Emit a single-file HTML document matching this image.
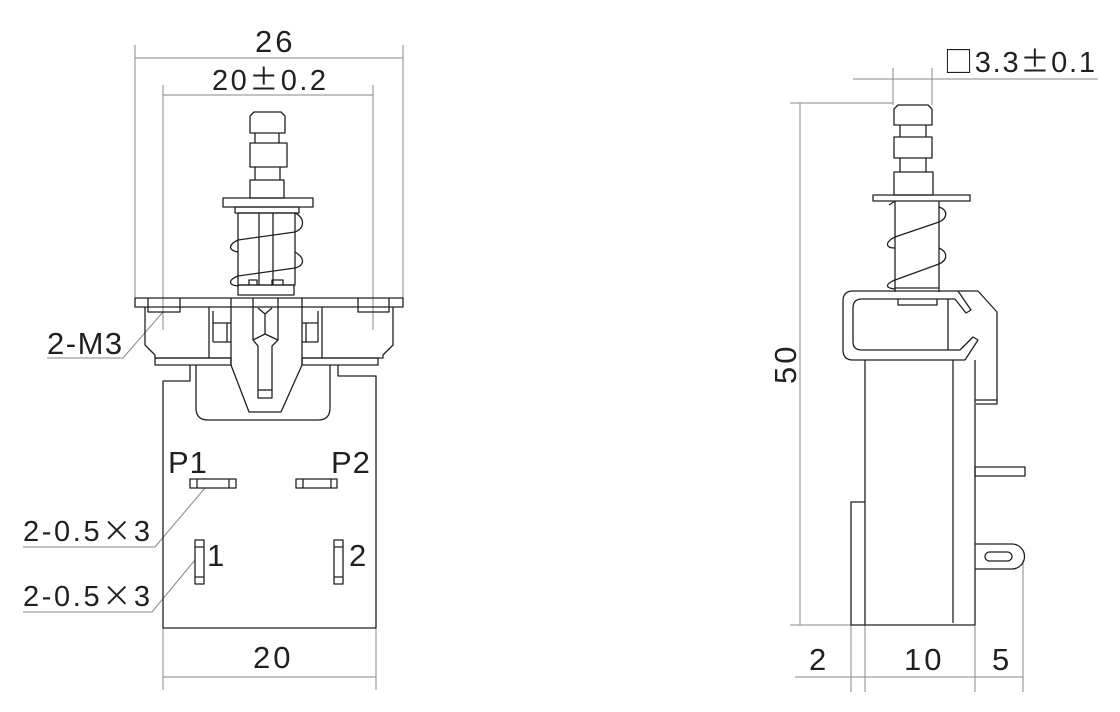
<!DOCTYPE html>
<html><head><meta charset="utf-8"><style>
html,body{margin:0;padding:0;background:#fff;}
svg{display:block}
text{font-family:"Liberation Sans","Noto Sans CJK SC",sans-serif;fill:#231f20;}
.cjk{font-family:"Noto Sans CJK SC",sans-serif;}
.n{font-size:31px;letter-spacing:3px;}
</style></head><body>
<svg width="1120" height="712" viewBox="0 0 1120 712" xmlns="http://www.w3.org/2000/svg">
<g fill="none" stroke="#8a8686" stroke-width="1">
<line x1="135" y1="45" x2="135" y2="298"/><line x1="403" y1="45" x2="403" y2="298"/>
<line x1="135" y1="58" x2="403" y2="58"/>
<line x1="163" y1="85" x2="163" y2="330"/><line x1="373" y1="85" x2="373" y2="330"/>
<line x1="163" y1="95" x2="373" y2="95"/>
<line x1="163" y1="628" x2="163" y2="690"/><line x1="376" y1="628" x2="376" y2="690"/>
<line x1="163" y1="677" x2="376" y2="677"/>
<polyline points="47,358 123,358 163,312"/>
<polyline points="23,547 155,547 205,488"/>
<polyline points="23,612 152,612 195,560"/>
<line x1="853" y1="79" x2="1098" y2="79"/>
<line x1="893" y1="68" x2="893" y2="105"/><line x1="932" y1="68" x2="932" y2="105"/>
<line x1="790" y1="103" x2="893" y2="103"/>
<line x1="790" y1="625" x2="865" y2="625"/>
<line x1="800" y1="103" x2="800" y2="625"/>
<line x1="851" y1="625" x2="851" y2="692"/><line x1="865" y1="625" x2="865" y2="692"/>
<line x1="975" y1="625" x2="975" y2="692"/><line x1="1023" y1="560" x2="1023" y2="692"/>
<line x1="795" y1="677" x2="1023" y2="677"/>
</g>
<g fill="none" stroke="#231f20" stroke-width="1.3" stroke-linejoin="round">
<path d="M250,133 V116 L254,112 H281 L285,116 V133 Z"/>
<path d="M255,133 V143 M279,133 V143"/>
<rect x="250" y="143" width="37" height="24"/>
<path d="M255,167 V180 M280,167 V180"/>
<rect x="250" y="180" width="34" height="18"/>
<rect x="223" y="198" width="90" height="9"/>
<rect x="235" y="207" width="64" height="6"/>
<rect x="238" y="213" width="57" height="72"/>
<rect x="238" y="285" width="56" height="10"/>
<path d="M259,213 V285 M273,213 V285"/>
<path d="M249,285 V280 H257 V285 M272,285 V280 H283 V285"/>
<path d="M295,213 C305,218 305,228 295,232 L238,240 C228,245 228,250 238,252"/>
<path d="M295,252 C305,258 305,265 295,268 L238,276 C228,280 228,285 238,286"/>
<rect x="135" y="298" width="268" height="9"/>
<path d="M148,298 V312 H180 V298" />
<path d="M358,298 V312 H389 V298" />
<path d="M145,307 V345 L155,355 V358 H231"/>
<path d="M209,307 V358"/>
<path d="M213,311 V323 H231 M213,342 H231 M213,323 V342 M227,323 V342"/>
<rect x="155" y="358" width="76" height="7"/>
<path d="M393,307 V345 L383,355 V358 H302"/>
<path d="M322,307 V358"/>
<path d="M318,311 V323 H302 M318,342 H302 M318,323 V342 M306,323 V342"/>
<rect x="302" y="358" width="76" height="7"/>
<path d="M231,298 V365 L249,412 H281 L302,365 V298"/>
<path d="M253,298 V340 L258,346 V398 H272 V346 L278,340 V298"/>
<path d="M253,340 L265,334 L278,340 M265,334 V314 M258,308 L265,314 L272,308"/>
<line x1="258" y1="390" x2="272" y2="390"/>
<path d="M190,365 V381 H163 V628 H376 V376 H338 V365"/>
<path d="M196,365 V408 Q196,420 208,420 H318 Q330,420 330,408 V365"/>
<rect x="190" y="479" width="46" height="9"/>
<path d="M197,479 V488 M229,479 V488"/>
<rect x="296" y="479" width="41" height="9"/>
<path d="M303,479 V488 M331,479 V488"/>
<rect x="195" y="540" width="9" height="44"/>
<path d="M195,547 H204 M195,577 H204"/>
<rect x="334" y="540" width="9" height="44"/>
<path d="M334,547 H343 M334,577 H343"/>

<path d="M894,125 V109 L898,105 H928 L932,109 V125 Z"/>
<path d="M900,125 V137 M926,125 V137"/>
<rect x="894" y="137" width="38" height="21"/>
<path d="M900,158 V172 M926,158 V172"/>
<rect x="894" y="172" width="39" height="23"/>
<rect x="873" y="195" width="97" height="6"/>
<path d="M895,201 V292 M939,201 V292"/>
<path d="M889,205 L895,201 M939,207 C948,210 948,218 939,222 L895,237 C885,242 885,248 895,248"/>
<path d="M939,248 C948,252 948,260 939,264 L895,280 C885,284 885,288 895,289"/>
<line x1="895" y1="288" x2="939" y2="288"/>
<path d="M958,291 H853 Q843,291 843,301 V350 Q843,360 853,360 H965"/>
<path d="M955,299 H862 Q853,299 853,308 V342 Q853,350 862,350 H960"/>
<path d="M898,299 V305 H937 V299"/>
<path d="M948,299 V350"/>
<path d="M958,291 L971,310 L966,313 L955,299"/>
<path d="M960,350 L973,337 L978,340 L965,360"/>
<path d="M958,291 H978 L997,312 V404 H976"/>
<path d="M865,360 V625 H975 V360"/>
<path d="M953,360 V623"/>
<path d="M865,502 H851 V625 H865"/>
<path d="M975,400 H997"/>
<rect x="975" y="467" width="50" height="9"/>
<path d="M975,544 H1012 A12.5,12.5 0 0 1 1012,569 H975"/>
<rect x="985" y="552" width="27" height="9" rx="4.5"/>
</g>
<g font-size="29">
<text class="n" x="255" y="52">26</text>
<text x="212" y="90" textLength="114" lengthAdjust="spacing">20<tspan class="cjk">±</tspan>0.2</text>
<text class="n" x="253" y="668">20</text>
<text class="n" x="47" y="354" style="letter-spacing:1.5px">2-M3</text>
<text x="23" y="541" textLength="127" lengthAdjust="spacing">2-0.5<tspan class="cjk">×</tspan>3</text>
<text x="23" y="606" textLength="127" lengthAdjust="spacing">2-0.5<tspan class="cjk">×</tspan>3</text>
<text class="n" x="168" y="473" style="letter-spacing:1px">P1</text>
<text class="n" x="331" y="473" style="letter-spacing:1px">P2</text>
<text class="n" x="207" y="566">1</text>
<text class="n" x="349" y="566">2</text>
<text x="944" y="72" textLength="151" lengthAdjust="spacing"><tspan class="cjk">□</tspan>3.3<tspan class="cjk">±</tspan>0.1</text>
<text class="n" x="809" y="670">2</text>
<text class="n" x="904" y="670">10</text>
<text class="n" x="992" y="670">5</text>
<text class="n" x="0" y="0" transform="translate(796,384) rotate(-90)">50</text>
</g>
</svg>
</body></html>
